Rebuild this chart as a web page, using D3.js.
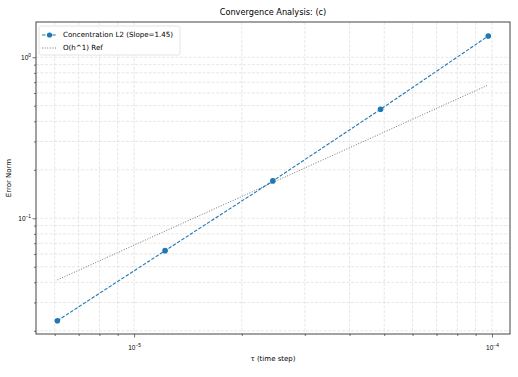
<!DOCTYPE html>
<html>
<head>
<meta charset="utf-8">
<script src="https://cdn.jsdelivr.net/npm/d3@7"></script>
<style>
  body { margin: 0; background: #fff; }
  svg { font-family: "DejaVu Sans", sans-serif; }
</style>
</head>
<body>
<svg id="chart" width="518" height="377"></svg>
<script>
// data
const tau = [0.1 / 16384, 0.1 / 8192, 0.1 / 4096, 0.1 / 2048, 0.1 / 1024];
const errL2 = [0.0231, 0.0629, 0.1706, 0.475, 1.356];
const refO1 = [0.0414, 0.0832, 0.1668, 0.335, 0.673];
const xMajor = [1e-5, 1e-4];
const yMajor = [0.1, 1];
const seriesNames = ["Concentration L2 (Slope=1.45)", "O(h^1) Ref"];

const W = 518, H = 377;
const m = { left: 36, top: 22, right: 8, bottom: 43 };
const svg = d3.select("#chart");

const x = d3.scaleLog().domain([5.32e-6, 1.123e-4]).range([m.left, W - m.right]);
const y = d3.scaleLog().domain([0.0191, 1.656]).range([H - m.bottom, m.top]);

const xMinor = [];
for (let e = -6; e <= -4; e++) for (let k = 2; k <= 9; k++) {
  const v = k * Math.pow(10, e);
  if (v > x.domain()[0] && v < x.domain()[1]) xMinor.push(v);
}
const yMinor = [];
for (let e = -2; e <= 0; e++) for (let k = 2; k <= 9; k++) {
  const v = k * Math.pow(10, e);
  if (v > y.domain()[0] && v < y.domain()[1]) yMinor.push(v);
}

// grid
const grid = svg.append("g");
grid.selectAll("line.gx").data(xMajor.concat(xMinor)).join("line")
  .attr("x1", d => x(d)).attr("x2", d => x(d))
  .attr("y1", m.top).attr("y2", H - m.bottom)
  .attr("stroke", "#ddd").attr("stroke-width", 0.7).attr("stroke-dasharray", "3,1.5");
grid.selectAll("line.gy").data(yMajor.concat(yMinor)).join("line")
  .attr("y1", d => y(d)).attr("y2", d => y(d))
  .attr("x1", m.left).attr("x2", W - m.right)
  .attr("stroke", "#ddd").attr("stroke-width", 0.7).attr("stroke-dasharray", "3,1.5");

// axes
const pow = v => Math.round(Math.log10(v));
const xAxis = svg.append("g").attr("transform", `translate(0,${H - m.bottom})`);
xAxis.call(d3.axisBottom(x).tickValues(xMajor).tickSize(3.5).tickPadding(3).tickFormat(""));
xAxis.append("g").call(d3.axisBottom(x).tickValues(xMinor).tickSize(2).tickFormat(""));
xAxis.selectAll(".tick").filter(d => xMajor.includes(d)).append("text")
  .attr("y", 16).attr("text-anchor", "middle").attr("fill", "#000").attr("font-size", 6.5)
  .call(t => {
    t.append("tspan").text("10");
    t.append("tspan").attr("dy", -3).attr("font-size", 4.8).text(d => "\u2212" + Math.abs(pow(d)));
  });

const yAxis = svg.append("g").attr("transform", `translate(${m.left},0)`);
yAxis.call(d3.axisLeft(y).tickValues(yMajor).tickSize(3.5).tickFormat(""));
yAxis.append("g").call(d3.axisLeft(y).tickValues(yMinor).tickSize(2).tickFormat(""));
yAxis.selectAll(".tick").filter(d => yMajor.includes(d)).append("text")
  .attr("x", -5).attr("dy", "0.35em").attr("text-anchor", "end").attr("fill", "#000").attr("font-size", 6.5)
  .call(t => {
    t.append("tspan").text("10");
    t.append("tspan").attr("dy", -3).attr("font-size", 4.8)
      .text(d => pow(d) < 0 ? "\u2212" + Math.abs(pow(d)) : String(pow(d)));
  });
svg.selectAll(".domain").remove();
svg.selectAll(".tick line").attr("stroke", "#333").attr("stroke-width", 0.7);

// frame
svg.append("rect")
  .attr("x", m.left).attr("y", m.top)
  .attr("width", W - m.left - m.right).attr("height", H - m.top - m.bottom)
  .attr("fill", "none").attr("stroke", "#444").attr("stroke-width", 1);

// series
const pts = tau.map((t, i) => ({ t, e: errL2[i], r: refO1[i] }));
const line = d3.line().x(d => x(d.t));
svg.append("path").datum(pts)
  .attr("d", line.y(d => y(d.r)))
  .attr("fill", "none").attr("stroke", "#777").attr("stroke-width", 1)
  .attr("stroke-dasharray", "1,1.6");
svg.append("path").datum(pts)
  .attr("d", d3.line().x(d => x(d.t)).y(d => y(d.e)))
  .attr("fill", "none").attr("stroke", "#1f77b4").attr("stroke-width", 1.1)
  .attr("stroke-dasharray", "3.5,1.6");
svg.selectAll("circle.pt").data(pts).join("circle")
  .attr("cx", d => x(d.t)).attr("cy", d => y(d.e)).attr("r", 2.8)
  .attr("fill", "#1f77b4");

// labels
svg.append("text").attr("x", (m.left + W - m.right) / 2).attr("y", 15)
  .attr("text-anchor", "middle").attr("font-size", 8.2).text("Convergence Analysis: (c)");
svg.append("text").attr("x", (m.left + W - m.right) / 2).attr("y", 361)
  .attr("text-anchor", "middle").attr("font-size", 7).text("\u03c4 (time step)");
svg.append("text")
  .attr("transform", `translate(11,${(m.top + H - m.bottom) / 2}) rotate(-90)`)
  .attr("text-anchor", "middle").attr("font-size", 7).text("Error Norm");

// legend
const lg = svg.append("g").attr("transform", `translate(${m.left + 3},${m.top + 4})`);
lg.append("rect").attr("width", 141).attr("height", 29).attr("rx", 2)
  .attr("fill", "#fff").attr("fill-opacity", 0.85).attr("stroke", "#ddd").attr("stroke-width", 0.8);
lg.append("line").attr("x1", 3).attr("x2", 18).attr("y1", 9).attr("y2", 9)
  .attr("stroke", "#1f77b4").attr("stroke-width", 1.1).attr("stroke-dasharray", "3.5,1.6");
lg.append("circle").attr("cx", 10.5).attr("cy", 9).attr("r", 2.6).attr("fill", "#1f77b4");
lg.append("line").attr("x1", 3).attr("x2", 18).attr("y1", 22).attr("y2", 22)
  .attr("stroke", "#777").attr("stroke-width", 1).attr("stroke-dasharray", "1,1.6");
lg.selectAll("text.lbl").data(seriesNames).join("text")
  .attr("x", 24).attr("y", (d, i) => 9 + i * 13).attr("dy", "0.35em")
  .attr("font-size", 7.1).text(d => d);
</script>
</body>
</html>
